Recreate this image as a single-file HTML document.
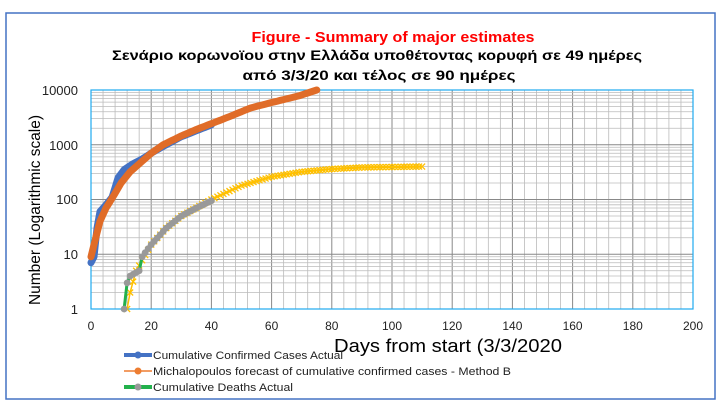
<!DOCTYPE html>
<html><head><meta charset="utf-8"><style>
html,body{margin:0;padding:0;background:#fff;width:720px;height:408px;overflow:hidden}
svg text{font-family:"Liberation Sans",sans-serif}
</style></head><body>
<svg id="s" width="720" height="408" xmlns="http://www.w3.org/2000/svg">
<rect x="0" y="0" width="720" height="408" fill="#fff"/>
<rect x="6" y="13" width="709" height="386" fill="#fff" stroke="#4472c4" stroke-width="1.5"/>
<g id="grid"></g>
<rect x="91" y="90" width="602" height="219" fill="none" stroke="#1eaaf1" stroke-width="1.2"/>
<g id="series"></g>
<text x="393" y="42" fill="#ff0000" font-weight="bold" font-size="15" text-anchor="middle" textLength="283" lengthAdjust="spacingAndGlyphs">Figure - Summary of major estimates</text>
<text x="377" y="60" fill="#000" font-weight="bold" font-size="14" text-anchor="middle" textLength="530" lengthAdjust="spacingAndGlyphs">Σενάριο κορωνοϊου στην Ελλάδα υποθέτοντας κορυφή σε  49 ημέρες</text>
<text x="379" y="80" fill="#000" font-weight="bold" font-size="14" text-anchor="middle" textLength="273" lengthAdjust="spacingAndGlyphs">από 3/3/20  και τέλος σε  90 ημέρες</text>
<g font-size="13" fill="#222" text-anchor="end">
<text x="78" y="95">10000</text><text x="78" y="150">1000</text><text x="78" y="204">100</text><text x="78" y="259">10</text><text x="78" y="314">1</text>
</g>
<g id="xl" font-size="12" fill="#222" text-anchor="middle"></g>
<text transform="translate(40,210) rotate(-90)" font-size="16" text-anchor="middle" fill="#000" textLength="190" lengthAdjust="spacingAndGlyphs">Number (Logarithmic scale)</text>
<text x="334" y="352" font-size="18" fill="#000" textLength="228" lengthAdjust="spacingAndGlyphs">Days from start  (3/3/2020</text>
<g font-size="11" fill="#222">
<line x1="124" y1="355" x2="152" y2="355" stroke="#4472c4" stroke-width="4"/><circle cx="138" cy="355" r="3.5" fill="#4472c4"/>
<text x="153" y="359" textLength="190" lengthAdjust="spacingAndGlyphs">Cumulative Confirmed Cases Actual</text>
<line x1="124" y1="371" x2="152" y2="371" stroke="#ed7d31" stroke-width="1.5"/><circle cx="138" cy="371" r="3.5" fill="#ed7d31"/>
<text x="153" y="375" textLength="358" lengthAdjust="spacingAndGlyphs">Michalopoulos forecast  of  cumulative confirmed cases - Method B</text>
<line x1="124" y1="387" x2="152" y2="387" stroke="#22b14c" stroke-width="4"/><circle cx="138" cy="387" r="3.5" fill="#999"/>
<text x="153" y="391" textLength="140" lengthAdjust="spacingAndGlyphs">Cumulative Deaths Actual</text>
</g>
</svg>
<script>
var NS="http://www.w3.org/2000/svg";
function X(d){return 91+d*3.01}
function Y(v){return 309-Math.log10(v)*54.75}
function el(t,a,p){var e=document.createElementNS(NS,t);for(var k in a)e.setAttribute(k,a[k]);p.appendChild(e);return e}
var g=document.getElementById("grid");
for(var d=4;d<200;d+=4){el("line",{x1:X(d),x2:X(d),y1:90,y2:309,stroke:d%20==0?"#888":"#bbb","stroke-width":d%20==0?1:0.8},g)}
for(var k=0;k<4;k++)for(var m=2;m<=10;m++){var y=Y(m*Math.pow(10,k));el("line",{x1:91,x2:693,y1:y,y2:y,stroke:m==10?"#888":"#bbb","stroke-width":m==10?1:0.8},g)}
var xl=document.getElementById("xl");
for(var d=0;d<=200;d+=20){var t=el("text",{x:X(d),y:330},xl);t.textContent=d}
var s=document.getElementById("series");
function interp(pts){var o=[];for(var i=0;i<pts.length-1;i++){var a=pts[i],b=pts[i+1];for(var d=a[0];d<b[0];d+=1){var f=(d-a[0])/(b[0]-a[0]);o.push([d,Math.pow(10,Math.log10(a[1])+f*(Math.log10(b[1])-Math.log10(a[1])))])}}o.push(pts[pts.length-1]);return o}
function path(p){return p.map(function(q,i){return (i?"L":"M")+X(q[0]).toFixed(1)+","+Y(q[1]).toFixed(1)}).join("")}
var blue=interp([[0,7],[1,9],[2,30],[3,60],[5,80],[7,110],[9,250],[11,350],[14,450],[17,550],[20,700],[25,1000],[30,1400],[35,1800],[40,2300]]);
var orange=interp([[0,9],[1,15],[3,40],[5,70],[8,130],[10,200],[13,320],[17,500],[20,700],[24,1000],[30,1450],[36,2000],[45,3100],[53,4700],[60,5900],[69,7800],[75,10000]]);
var yellow=interp([[12,1],[13,2],[15,5],[20,15],[25,30],[30,50],[40,100],[50,180],[60,260],[70,320],[80,360],[90,385],[110,400]]);
var gray=interp([[11,1],[12,3],[13,4],[16,5],[17,9],[20,15],[25,30],[30,50],[35,70],[40,95]]);
el("path",{d:path(blue),fill:"none",stroke:"#4472c4","stroke-width":7,"stroke-linejoin":"round","stroke-linecap":"round"},s);
el("path",{d:path(yellow),fill:"none",stroke:"#ffc000","stroke-width":1.5},s);
yellow.forEach(function(q){var x=X(q[0]),y=Y(q[1]);el("path",{d:"M"+(x-3)+","+(y-3)+"L"+(x+3)+","+(y+3)+"M"+(x-3)+","+(y+3)+"L"+(x+3)+","+(y-3),stroke:"#ffc000","stroke-width":1.3},s)});
el("path",{d:path(gray),fill:"none",stroke:"#22b14c","stroke-width":3},s);
gray.forEach(function(q){el("circle",{cx:X(q[0]),cy:Y(q[1]),r:3.4,fill:"#999"},s)});
el("path",{d:path(orange),fill:"none",stroke:"#e06c28","stroke-width":7,"stroke-linejoin":"round","stroke-linecap":"round"},s);
</script>
</body></html>
